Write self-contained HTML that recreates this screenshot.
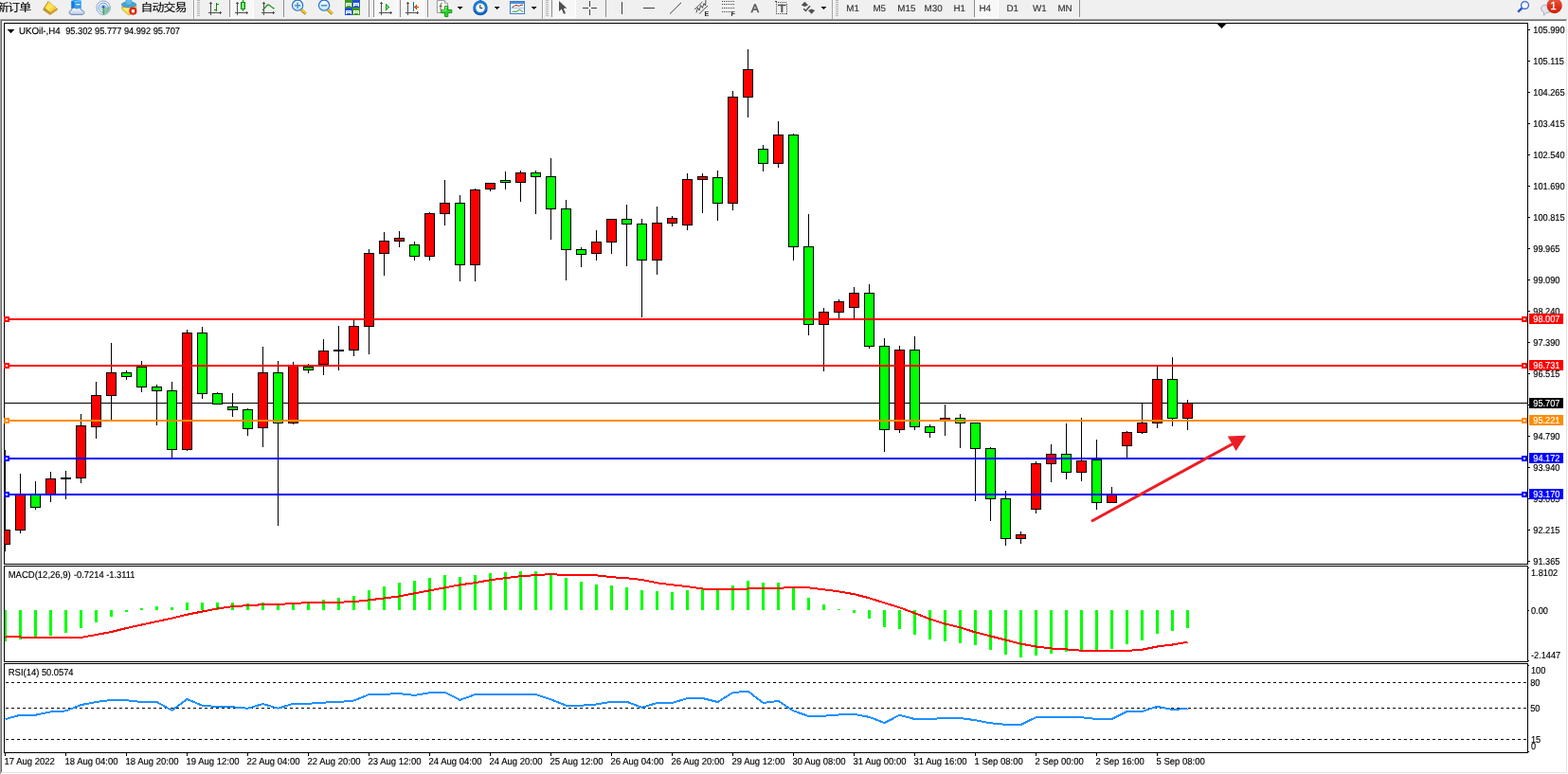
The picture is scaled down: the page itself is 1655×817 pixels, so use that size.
<!DOCTYPE html>
<html><head><meta charset="utf-8"><title>UKOil H4</title>
<style>
html,body{margin:0;padding:0;background:#fff}
body{width:1655px;height:817px;overflow:hidden;position:relative;font-family:"Liberation Sans","Noto Sans CJK SC",sans-serif}
#chart{position:absolute;left:0;top:0}
#chart text{font-family:"Liberation Sans",sans-serif;white-space:pre}
</style></head><body>

<svg id="chart" width="1655" height="817" viewBox="0 0 1655 817" shape-rendering="crispEdges">
<g id="toolbar">
<rect x="0" y="0" width="1655" height="20" fill="#f0f0f0" shape-rendering="crispEdges"/>
<defs><linearGradient id="gold" x1="0" y1="0" x2="1" y2="1"><stop offset="0" stop-color="#f4cf3a"/><stop offset="0.45" stop-color="#ffe85a"/><stop offset="1" stop-color="#e2aa1e"/></linearGradient><linearGradient id="cand" x1="0" y1="0" x2="1" y2="0"><stop offset="0" stop-color="#30d030"/><stop offset="0.5" stop-color="#a0ffa0"/><stop offset="1" stop-color="#30d030"/></linearGradient><linearGradient id="lens" x1="0" y1="0" x2="0" y2="1"><stop offset="0" stop-color="#f4fbff"/><stop offset="1" stop-color="#bfe6fb"/></linearGradient><linearGradient id="cloud" x1="0" y1="0" x2="0" y2="1"><stop offset="0" stop-color="#ffffff"/><stop offset="1" stop-color="#b8c8e4"/></linearGradient><linearGradient id="badge" x1="0" y1="0" x2="0" y2="1"><stop offset="0" stop-color="#ec5a40"/><stop offset="0.6" stop-color="#dc3018"/><stop offset="1" stop-color="#d41c08"/></linearGradient><pattern id="dith" width="2" height="2" patternUnits="userSpaceOnUse"><rect width="2" height="2" fill="#ffffff"/><rect width="1" height="1" fill="#f0f0f0"/><rect x="1" y="1" width="1" height="1" fill="#f0f0f0"/></pattern></defs>
<text transform="translate(-3.6,11.5) scale(1.08,0.95)" font-size="12" letter-spacing="-0.9" fill="#000" stroke="#000" stroke-width="0.12" style="font-family:'Liberation Sans','Noto Sans CJK SC',sans-serif">新订单</text>
<g shape-rendering="geometricPrecision"><polygon points="50.8,1.1 60.8,9.2 60.2,11 52.8,15.9 45.2,10.4 46,8.8" fill="#b8841e"/><polygon points="51.2,1.7 60.2,9.1 53.2,13.2 47.3,8.6" fill="url(#gold)"/><polygon points="46.3,9.9 52.9,14.6 59.9,10.2 59.9,10.9 52.9,15.3 46.3,10.6" fill="#e8c660"/></g>
<g shape-rendering="geometricPrecision"><path d="M75.4,1 L80,-1 L85.8,0.6 L85.8,9 L75.4,9 Z" fill="#2f9ff4"/><path d="M75.4,1 L78.4,2 L78.4,9 L75.4,9Z" fill="#157ad6"/><path d="M78.4,2 L85.8,0.6" stroke="#bfe2ff" stroke-width="0.7"/><rect x="80.2" y="4" width="4.2" height="1.3" fill="#e4f3ff"/><path d="M76,15.4 C72.4,15.4 72.2,11.2 75.4,10.8 C75.6,8 79.6,7.4 80.8,9.4 C82.6,7.8 86,8.8 86,11 C89.6,10.8 89.8,15.4 86.4,15.4 Z" fill="url(#cloud)" stroke="#5874b4" stroke-width="0.9"/></g>
<g shape-rendering="geometricPrecision"><circle cx="109.1" cy="8.2" r="7.3" fill="#eef3f6" stroke="#86a8d8" stroke-width="1"/><path d="M109.1,8.2 L109.1,15.6 A7.4,7.4 0 0 0 116.4,7 Z" fill="#8cc890" opacity="0.85"/><circle cx="109.1" cy="8.2" r="5" fill="none" stroke="#5f8fd6" stroke-width="0.9"/><circle cx="109.1" cy="8.2" r="2.8" fill="none" stroke="#7fa6de" stroke-width="0.8"/><circle cx="109.1" cy="7.6" r="1.5" fill="#2a58c8"/><rect x="108.6" y="8" width="1.1" height="7.6" fill="#28a828"/></g>
<g shape-rendering="geometricPrecision"><path d="M128.4,7.6 Q128.2,9.6 130.6,11.6 L135.2,15.4 Q136.4,16.2 137.6,15.2 L143.6,9.6 L144,6.4 Z" fill="#f8dc50" stroke="#c8981c" stroke-width="0.7"/><path d="M130,8.4 L135.6,13.6 L137,9" fill="#fff08a" opacity="0.7"/><ellipse cx="136" cy="4.9" rx="7.9" ry="2.9" fill="#4aa6d4" stroke="#2a86ac" stroke-width="0.6"/><path d="M132.2,4.6 Q132.4,-1.4 136,-1.4 Q139.4,-1.4 139.6,4.4 Q136,6 132.2,4.6 Z" fill="#62bcea" stroke="#2a86ac" stroke-width="0.5"/><circle cx="140.4" cy="11.7" r="4.1" fill="#dc2a12"/><rect x="138.9" y="10.2" width="3.1" height="3.1" fill="#fff"/></g>
<text transform="translate(148.5,11.5) scale(1.08,0.95)" font-size="12" letter-spacing="-0.9" fill="#000" stroke="#000" stroke-width="0.12" style="font-family:'Liberation Sans','Noto Sans CJK SC',sans-serif">自动交易</text>
<rect x="204" y="0" width="1" height="20" fill="#a0a0a0"/><rect x="205" y="0" width="1" height="20" fill="#ffffff"/>
<rect x="208" y="0" width="3" height="1" fill="#b4b4b4"/>
<rect x="208" y="2" width="3" height="1" fill="#b4b4b4"/>
<rect x="208" y="4" width="3" height="1" fill="#b4b4b4"/>
<rect x="208" y="6" width="3" height="1" fill="#b4b4b4"/>
<rect x="208" y="8" width="3" height="1" fill="#b4b4b4"/>
<rect x="208" y="10" width="3" height="1" fill="#b4b4b4"/>
<rect x="208" y="12" width="3" height="1" fill="#b4b4b4"/>
<rect x="208" y="14" width="3" height="1" fill="#b4b4b4"/>
<rect x="208" y="16" width="3" height="1" fill="#b4b4b4"/>
<g fill="#505050"><rect x="222" y="3" width="1" height="13"/><rect x="220" y="13" width="13" height="1"/><rect x="221" y="3" width="3" height="1"/><rect x="222" y="2" width="1" height="1"/><rect x="232" y="12" width="1" height="3"/><rect x="233" y="13" width="1" height="1"/></g>
<g fill="#0a8a0a"><rect x="228" y="3" width="1" height="9"/><rect x="229" y="4" width="2" height="1"/><rect x="226" y="10" width="2" height="1"/></g>
<rect x="242" y="0" width="26" height="18" fill="url(#dith)"/><rect x="242" y="0" width="1" height="18" fill="#8c8c8c"/><rect x="242" y="18" width="26" height="1" fill="#ffffff"/><rect x="267" y="0" width="1" height="19" fill="#ffffff"/>
<g fill="#505050"><rect x="250" y="3" width="1" height="13"/><rect x="248" y="13" width="13" height="1"/><rect x="249" y="3" width="3" height="1"/><rect x="250" y="2" width="1" height="1"/><rect x="260" y="12" width="1" height="3"/><rect x="261" y="13" width="1" height="1"/></g>
<rect x="256" y="0" width="1" height="12" fill="#0a8a0a"/><rect x="254" y="2" width="5" height="8" fill="#0a8a0a"/><rect x="255" y="3" width="3" height="6" fill="url(#cand)"/>
<g fill="#505050"><rect x="278" y="3" width="1" height="13"/><rect x="276" y="13" width="13" height="1"/><rect x="277" y="3" width="3" height="1"/><rect x="278" y="2" width="1" height="1"/><rect x="288" y="12" width="1" height="3"/><rect x="289" y="13" width="1" height="1"/></g>
<path shape-rendering="geometricPrecision" d="M277,10.6 C280,9 281,5 283,5 C285,5 286.5,8.4 289.6,9" fill="none" stroke="#1e8e1e" stroke-width="1.3"/>
<rect x="299" y="0" width="1" height="18" fill="#8c8c8c"/>
<g shape-rendering="geometricPrecision"><line x1="318.1" y1="10.4" x2="322.70000000000005" y2="14.6" stroke="#b8860b" stroke-width="3.2"/><line x1="318.3" y1="10.2" x2="322.70000000000005" y2="14.2" stroke="#f0d040" stroke-width="1.6"/><circle cx="314.1" cy="5.7" r="5.6" fill="url(#lens)" stroke="#2468c4" stroke-width="1.1"/><rect x="310.90000000000003" y="5" width="6.4" height="1.5" fill="#4a94c0"/><rect x="313.35" y="2.5" width="1.5" height="6.4" fill="#4a94c0"/></g>
<g shape-rendering="geometricPrecision"><line x1="346.1" y1="10.4" x2="350.70000000000005" y2="14.6" stroke="#b8860b" stroke-width="3.2"/><line x1="346.3" y1="10.2" x2="350.70000000000005" y2="14.2" stroke="#f0d040" stroke-width="1.6"/><circle cx="342.1" cy="5.7" r="5.6" fill="url(#lens)" stroke="#2468c4" stroke-width="1.1"/><rect x="338.90000000000003" y="5" width="6.4" height="1.5" fill="#4a94c0"/></g>
<rect x="364" y="0" width="8" height="8" fill="#3c9c1c"/><rect x="365" y="3" width="6" height="4" fill="#ffffff"/><rect x="366" y="4" width="4" height="1" fill="#3c9c1c" opacity="0.45"/><rect x="366" y="6" width="4" height="1" fill="#3c9c1c"/>
<rect x="372" y="0" width="8" height="8" fill="#2050d4"/><rect x="373" y="3" width="6" height="4" fill="#ffffff"/><rect x="374" y="4" width="4" height="1" fill="#2050d4" opacity="0.45"/><rect x="374" y="6" width="4" height="1" fill="#2050d4"/>
<rect x="364" y="8" width="8" height="8" fill="#2050d4"/><rect x="365" y="11" width="6" height="4" fill="#ffffff"/><rect x="366" y="12" width="4" height="1" fill="#2050d4" opacity="0.45"/><rect x="366" y="14" width="4" height="1" fill="#2050d4"/>
<rect x="372" y="8" width="8" height="8" fill="#3c9c1c"/><rect x="373" y="11" width="6" height="4" fill="#ffffff"/><rect x="374" y="12" width="4" height="1" fill="#3c9c1c" opacity="0.45"/><rect x="374" y="14" width="4" height="1" fill="#3c9c1c"/>
<rect x="389" y="0" width="1" height="18" fill="#8c8c8c"/>
<rect x="394" y="0" width="26" height="18" fill="url(#dith)"/><rect x="394" y="0" width="1" height="18" fill="#8c8c8c"/><rect x="394" y="18" width="26" height="1" fill="#ffffff"/><rect x="419" y="0" width="1" height="19" fill="#ffffff"/>
<g fill="#505050"><rect x="402" y="3" width="1" height="13"/><rect x="400" y="13" width="13" height="1"/><rect x="401" y="3" width="3" height="1"/><rect x="402" y="2" width="1" height="1"/><rect x="412" y="12" width="1" height="3"/><rect x="413" y="13" width="1" height="1"/></g>
<g fill="#0c9a0c"><rect x="407" y="4" width="1" height="7"/><rect x="408" y="5" width="1" height="5"/><rect x="409" y="6" width="1" height="3"/><rect x="410" y="7" width="1" height="1"/></g><rect x="408" y="6" width="1" height="3" fill="#7cf07c"/><rect x="409" y="7" width="1" height="1" fill="#58d858"/>
<rect x="422" y="0" width="26" height="18" fill="url(#dith)"/><rect x="422" y="0" width="1" height="18" fill="#8c8c8c"/><rect x="422" y="18" width="26" height="1" fill="#ffffff"/><rect x="447" y="0" width="1" height="19" fill="#ffffff"/>
<g fill="#505050"><rect x="430" y="3" width="1" height="13"/><rect x="428" y="13" width="13" height="1"/><rect x="429" y="3" width="3" height="1"/><rect x="430" y="2" width="1" height="1"/><rect x="440" y="12" width="1" height="3"/><rect x="441" y="13" width="1" height="1"/></g>
<rect x="436" y="2" width="1" height="10" fill="#1070a0"/>
<g fill="#c84000"><rect x="437" y="7" width="5" height="1"/><rect x="438" y="6" width="2" height="3"/><rect x="439" y="5" width="1" height="5"/></g><rect x="438" y="7" width="2" height="1" fill="#f07010"/>
<rect x="451" y="0" width="1" height="18" fill="#8c8c8c"/>
<g shape-rendering="geometricPrecision"><path d="M461.4,0.6 L469.4,0.6 L472.4,3.6 L472.4,13.4 L461.4,13.4 Z" fill="#ffffff" stroke="#8a8a8a" stroke-width="0.9"/><path d="M469.4,0.6 L469.4,3.6 L472.4,3.6" fill="#e8e8e8" stroke="#8a8a8a" stroke-width="0.7"/><path d="M466.6,3.2 C464.6,3.2 465.2,5.4 465,10.6 M463.6,6.6 L466.6,6.6" fill="none" stroke="#504020" stroke-width="0.9"/><path d="M469.6,6.4 L472.8,6.4 L472.8,10.4 L476.8,10.4 L476.8,13.6 L472.8,13.6 L472.8,17.6 L469.6,17.6 L469.6,13.6 L465.6,13.6 L465.6,10.4 L469.6,10.4 Z" fill="#2ad42a" stroke="#0c8c0c" stroke-width="0.9"/><path d="M470.4,7.2 L472,7.2 M466.4,11.2 L470.4,11.2 L470.4,7.2" fill="none" stroke="#b0ffb0" stroke-width="0.7"/></g>
<polygon points="482.6,7 488.6,7 485.6,10" fill="#000" shape-rendering="geometricPrecision"/>
<g shape-rendering="geometricPrecision"><rect x="505.6" y="-1" width="2.8" height="2" fill="#2a7cc8"/><circle cx="507" cy="8.3" r="6.3" fill="#fcfcfc" stroke="#1b78d2" stroke-width="3"/><path d="M500.2,10.6 A7.2,7.2 0 0 0 513.8,10.6" fill="none" stroke="#0f5cb0" stroke-width="1.6"/><circle cx="507" cy="8.3" r="3.9" fill="none" stroke="#c8c8c8" stroke-width="0.7" stroke-dasharray="0.5,1.54"/><path d="M506.8,5.2 L506.8,8.6 L509.4,8.6" fill="none" stroke="#202020" stroke-width="1"/></g>
<polygon points="521.6,7 527.6,7 524.6,10" fill="#000" shape-rendering="geometricPrecision"/>
<g><rect x="538.5" y="1.5" width="15" height="13" fill="#ffffff" stroke="#3a7ac8" stroke-width="1"/><rect x="539" y="2" width="14" height="2" fill="#4a90dc"/><rect x="539" y="8" width="14" height="1" fill="#9cc0ec"/><path shape-rendering="geometricPrecision" d="M540.4,7.2 L542,7.2 L543.4,6 L545,5.2 L546.6,6.2 L548.4,6.2 L550,5.2 L552,5.2" fill="none" stroke="#a02010" stroke-width="1"/><path shape-rendering="geometricPrecision" d="M541,12.6 L542.6,12 L544.4,12.6 L546.4,11.4 L548.6,10.2 L550.6,11.6 L552,12.6" fill="none" stroke="#109010" stroke-width="1"/></g>
<polygon points="560.6,7 566.6,7 563.6,10" fill="#000" shape-rendering="geometricPrecision"/>
<rect x="572" y="0" width="1" height="20" fill="#a0a0a0"/><rect x="573" y="0" width="1" height="20" fill="#ffffff"/>
<rect x="576" y="0" width="3" height="1" fill="#b4b4b4"/>
<rect x="576" y="2" width="3" height="1" fill="#b4b4b4"/>
<rect x="576" y="4" width="3" height="1" fill="#b4b4b4"/>
<rect x="576" y="6" width="3" height="1" fill="#b4b4b4"/>
<rect x="576" y="8" width="3" height="1" fill="#b4b4b4"/>
<rect x="576" y="10" width="3" height="1" fill="#b4b4b4"/>
<rect x="576" y="12" width="3" height="1" fill="#b4b4b4"/>
<rect x="576" y="14" width="3" height="1" fill="#b4b4b4"/>
<rect x="576" y="16" width="3" height="1" fill="#b4b4b4"/>
<rect x="582" y="0" width="26" height="18" fill="url(#dith)"/><rect x="582" y="0" width="1" height="18" fill="#8c8c8c"/><rect x="582" y="18" width="26" height="1" fill="#ffffff"/><rect x="607" y="0" width="1" height="19" fill="#ffffff"/>
<path shape-rendering="geometricPrecision" d="M590,1 L590,12 L592.8,9.6 L595,14.8 L597,14 L594.8,8.9 L598.2,8.6 Z" fill="#505050"/>
<g fill="#404040"><rect x="622" y="1" width="1" height="6"/><rect x="622" y="10" width="1" height="6"/><rect x="615" y="8" width="6" height="1"/><rect x="624" y="8" width="6" height="1"/></g>
<rect x="639" y="0" width="1" height="18" fill="#8c8c8c"/>
<rect x="656" y="2" width="1" height="13" fill="#404040"/>
<rect x="679" y="8" width="12" height="1" fill="#404040"/>
<line shape-rendering="geometricPrecision" x1="707" y1="14.6" x2="719" y2="2.8" stroke="#404040" stroke-width="1"/>
<g shape-rendering="geometricPrecision" stroke="#404040" stroke-width="0.9" fill="none"><line x1="733" y1="10" x2="741.4" y2="2"/><line x1="738" y1="14.6" x2="747" y2="6"/><path d="M735,13.4 L736.4,8 L738,11 L739.6,5.6 L741.4,8.4 L743,3.6 L744.6,6 L745,0"/></g>
<text x="743.6" y="16.8" font-size="7" font-weight="bold" fill="#303030">E</text>
<rect x="762" y="1" width="1" height="1" fill="#404040"/>
<rect x="764" y="1" width="1" height="1" fill="#404040"/>
<rect x="766" y="1" width="1" height="1" fill="#404040"/>
<rect x="768" y="1" width="1" height="1" fill="#404040"/>
<rect x="770" y="1" width="1" height="1" fill="#404040"/>
<rect x="772" y="1" width="1" height="1" fill="#404040"/>
<rect x="774" y="1" width="1" height="1" fill="#404040"/>
<rect x="762" y="4" width="1" height="1" fill="#404040"/>
<rect x="764" y="4" width="1" height="1" fill="#404040"/>
<rect x="766" y="4" width="1" height="1" fill="#404040"/>
<rect x="768" y="4" width="1" height="1" fill="#404040"/>
<rect x="770" y="4" width="1" height="1" fill="#404040"/>
<rect x="772" y="4" width="1" height="1" fill="#404040"/>
<rect x="774" y="4" width="1" height="1" fill="#404040"/>
<rect x="762" y="8" width="1" height="1" fill="#404040"/>
<rect x="764" y="8" width="1" height="1" fill="#404040"/>
<rect x="766" y="8" width="1" height="1" fill="#404040"/>
<rect x="768" y="8" width="1" height="1" fill="#404040"/>
<rect x="770" y="8" width="1" height="1" fill="#404040"/>
<rect x="772" y="8" width="1" height="1" fill="#404040"/>
<rect x="774" y="8" width="1" height="1" fill="#404040"/>
<rect x="762" y="12" width="1" height="1" fill="#404040"/>
<rect x="764" y="12" width="1" height="1" fill="#404040"/>
<rect x="766" y="12" width="1" height="1" fill="#404040"/>
<rect x="768" y="12" width="1" height="1" fill="#404040"/>
<rect x="770" y="12" width="1" height="1" fill="#404040"/>
<text x="771.6" y="16.8" font-size="7" font-weight="bold" fill="#303030">F</text>
<text x="792.7" y="13" font-size="12.4" fill="#505050" stroke="#505050" stroke-width="0.5" text-rendering="geometricPrecision">A</text>
<rect x="819" y="2" width="1" height="1" fill="#404040"/><rect x="819" y="14" width="1" height="1" fill="#404040"/>
<rect x="821" y="2" width="1" height="1" fill="#404040"/><rect x="821" y="14" width="1" height="1" fill="#404040"/>
<rect x="823" y="2" width="1" height="1" fill="#404040"/><rect x="823" y="14" width="1" height="1" fill="#404040"/>
<rect x="825" y="2" width="1" height="1" fill="#404040"/><rect x="825" y="14" width="1" height="1" fill="#404040"/>
<rect x="827" y="2" width="1" height="1" fill="#404040"/><rect x="827" y="14" width="1" height="1" fill="#404040"/>
<rect x="829" y="2" width="1" height="1" fill="#404040"/><rect x="829" y="14" width="1" height="1" fill="#404040"/>
<rect x="819" y="4" width="1" height="1" fill="#404040"/><rect x="830" y="4" width="1" height="1" fill="#404040"/>
<rect x="819" y="6" width="1" height="1" fill="#404040"/><rect x="830" y="6" width="1" height="1" fill="#404040"/>
<rect x="819" y="8" width="1" height="1" fill="#404040"/><rect x="830" y="8" width="1" height="1" fill="#404040"/>
<rect x="819" y="10" width="1" height="1" fill="#404040"/><rect x="830" y="10" width="1" height="1" fill="#404040"/>
<rect x="819" y="12" width="1" height="1" fill="#404040"/><rect x="830" y="12" width="1" height="1" fill="#404040"/>
<rect x="830" y="14" width="1" height="1" fill="#404040"/><rect x="818" y="1" width="2" height="1" fill="#404040"/>
<rect shape-rendering="geometricPrecision" x="821" y="4.7" width="8.6" height="1.5" fill="#505050"/><rect shape-rendering="geometricPrecision" x="824.4" y="4.7" width="1.9" height="8.4" fill="#505050"/>
<g shape-rendering="geometricPrecision" fill="#505050"><polygon points="845.8,5.6 849.4,1.8 853,5.6 849.4,7"/><polygon points="853,11 856.6,9.6 860.2,11 856.6,14.8"/><path d="M848.2,9.2 L850.4,11.4 L855,6.2" fill="none" stroke="#505050" stroke-width="1.5"/></g>
<polygon points="866.4,7 872.4,7 869.4,10" fill="#000" shape-rendering="geometricPrecision"/>
<rect x="878" y="0" width="1" height="20" fill="#a0a0a0"/><rect x="879" y="0" width="1" height="20" fill="#ffffff"/>
<rect x="882" y="0" width="3" height="1" fill="#b4b4b4"/>
<rect x="882" y="2" width="3" height="1" fill="#b4b4b4"/>
<rect x="882" y="4" width="3" height="1" fill="#b4b4b4"/>
<rect x="882" y="6" width="3" height="1" fill="#b4b4b4"/>
<rect x="882" y="8" width="3" height="1" fill="#b4b4b4"/>
<rect x="882" y="10" width="3" height="1" fill="#b4b4b4"/>
<rect x="882" y="12" width="3" height="1" fill="#b4b4b4"/>
<rect x="882" y="14" width="3" height="1" fill="#b4b4b4"/>
<rect x="882" y="16" width="3" height="1" fill="#b4b4b4"/>
<rect x="1028" y="0" width="26" height="18" fill="url(#dith)"/><rect x="1028" y="0" width="1" height="18" fill="#8c8c8c"/><rect x="1028" y="18" width="26" height="1" fill="#ffffff"/><rect x="1053" y="0" width="1" height="19" fill="#ffffff"/>
<text x="893.3" y="12.4" font-size="9.8" fill="#333" stroke="#333" stroke-width="0.15" text-rendering="geometricPrecision">M1</text>
<text x="921.4" y="12.4" font-size="9.8" fill="#333" stroke="#333" stroke-width="0.15" text-rendering="geometricPrecision">M5</text>
<text x="947.3" y="12.4" font-size="9.8" fill="#333" stroke="#333" stroke-width="0.15" text-rendering="geometricPrecision">M15</text>
<text x="975.6" y="12.4" font-size="9.8" fill="#333" stroke="#333" stroke-width="0.15" text-rendering="geometricPrecision">M30</text>
<text x="1006.4" y="12.4" font-size="9.8" fill="#333" stroke="#333" stroke-width="0.15" text-rendering="geometricPrecision">H1</text>
<text x="1033.4" y="12.4" font-size="9.8" fill="#333" stroke="#333" stroke-width="0.15" text-rendering="geometricPrecision">H4</text>
<text x="1062.4" y="12.4" font-size="9.8" fill="#333" stroke="#333" stroke-width="0.15" text-rendering="geometricPrecision">D1</text>
<text x="1090" y="12.4" font-size="9.8" fill="#333" stroke="#333" stroke-width="0.15" text-rendering="geometricPrecision">W1</text>
<text x="1116.4" y="12.4" font-size="9.8" fill="#333" stroke="#333" stroke-width="0.15" text-rendering="geometricPrecision">MN</text>
<rect x="1139" y="0" width="1" height="18" fill="#8c8c8c"/>
<g shape-rendering="geometricPrecision"><line x1="1602.2" y1="12.6" x2="1606.6" y2="8.4" stroke="#2a56c4" stroke-width="2.4"/><circle cx="1609.5" cy="5.5" r="3.9" fill="#f6f9ff" stroke="#3464d0" stroke-width="1.3"/></g>
<g shape-rendering="geometricPrecision"><path d="M1626.6,9 Q1626.6,5.2 1632,5.2 Q1638,5.2 1638,9.4 Q1638,13.4 1632.4,13.4 L1629.4,16.2 L1629.8,13 Q1626.6,12.2 1626.6,9 Z" fill="#e2e4ee" stroke="#a8aab0" stroke-width="0.9"/><circle cx="1640.7" cy="6.1" r="8.1" fill="url(#badge)"/></g>
<text x="1639.6" y="9.9" font-size="11.6" fill="#fff" stroke="#fff" stroke-width="0.3" text-anchor="middle">1</text>
</g>
<rect x="0" y="20" width="1654" height="1" fill="#a0a0a0"/>
<rect x="1654" y="20" width="1" height="797" fill="#ffffff"/>
<rect x="0" y="21" width="1653" height="1" fill="#696969"/>
<rect x="0" y="20" width="1" height="797" fill="#a0a0a0"/>
<rect x="1" y="21" width="1" height="795" fill="#696969"/>
<rect x="1653" y="21" width="1" height="795" fill="#e3e3e3"/>
<rect x="1" y="815" width="1653" height="1" fill="#e3e3e3"/>
<rect x="4" y="24" width="1609" height="1" fill="#000"/>
<rect x="4" y="595" width="1609" height="1" fill="#000"/>
<rect x="4" y="24" width="1" height="572" fill="#000"/>
<rect x="1612" y="24" width="1" height="572" fill="#000"/>
<rect x="4" y="597" width="1609" height="1" fill="#000"/>
<rect x="4" y="698" width="1609" height="1" fill="#000"/>
<rect x="4" y="597" width="1" height="102" fill="#000"/>
<rect x="1612" y="597" width="1" height="102" fill="#000"/>
<rect x="4" y="700" width="1609" height="1" fill="#000"/>
<rect x="4" y="794" width="1609" height="1" fill="#000"/>
<rect x="4" y="700" width="1" height="95" fill="#000"/>
<rect x="1612" y="700" width="1" height="95" fill="#000"/>
<rect x="5" y="425" width="1607" height="1" fill="#000"/>
<g>
<rect x="5" y="475" width="1" height="107" fill="#000"/>
<rect x="5" y="559" width="6" height="16" fill="#000"/>
<rect x="5" y="560" width="5" height="14" fill="#ff0000"/>
</g>
<g>
<rect x="21" y="500" width="1" height="63" fill="#000"/>
<rect x="16" y="521" width="11" height="39" fill="#000"/>
<rect x="17" y="522" width="9" height="37" fill="#ff0000"/>
</g>
<g>
<rect x="37" y="508" width="1" height="30" fill="#000"/>
<rect x="32" y="521" width="11" height="15" fill="#000"/>
<rect x="33" y="522" width="9" height="13" fill="#00ff00"/>
</g>
<g>
<rect x="53" y="498" width="1" height="32" fill="#000"/>
<rect x="48" y="505" width="11" height="17" fill="#000"/>
<rect x="49" y="506" width="9" height="15" fill="#ff0000"/>
</g>
<g>
<rect x="69" y="497" width="1" height="30" fill="#000"/>
<rect x="64" y="504" width="11" height="2" fill="#000"/>
</g>
<g>
<rect x="85" y="437" width="1" height="73" fill="#000"/>
<rect x="80" y="449" width="11" height="56" fill="#000"/>
<rect x="81" y="450" width="9" height="54" fill="#ff0000"/>
</g>
<g>
<rect x="101" y="403" width="1" height="60" fill="#000"/>
<rect x="96" y="417" width="11" height="34" fill="#000"/>
<rect x="97" y="418" width="9" height="32" fill="#ff0000"/>
</g>
<g>
<rect x="117" y="362" width="1" height="81" fill="#000"/>
<rect x="112" y="393" width="11" height="25" fill="#000"/>
<rect x="113" y="394" width="9" height="23" fill="#ff0000"/>
</g>
<g>
<rect x="133" y="391" width="1" height="10" fill="#000"/>
<rect x="128" y="393" width="11" height="5" fill="#000"/>
<rect x="129" y="394" width="9" height="3" fill="#00ff00"/>
</g>
<g>
<rect x="149" y="381" width="1" height="33" fill="#000"/>
<rect x="144" y="387" width="11" height="22" fill="#000"/>
<rect x="145" y="388" width="9" height="20" fill="#00ff00"/>
</g>
<g>
<rect x="165" y="406" width="1" height="43" fill="#000"/>
<rect x="160" y="408" width="11" height="5" fill="#000"/>
<rect x="161" y="409" width="9" height="3" fill="#00ff00"/>
</g>
<g>
<rect x="181" y="403" width="1" height="80" fill="#000"/>
<rect x="176" y="412" width="11" height="63" fill="#000"/>
<rect x="177" y="413" width="9" height="61" fill="#00ff00"/>
</g>
<g>
<rect x="197" y="348" width="1" height="128" fill="#000"/>
<rect x="192" y="351" width="11" height="124" fill="#000"/>
<rect x="193" y="352" width="9" height="122" fill="#ff0000"/>
</g>
<g>
<rect x="213" y="345" width="1" height="76" fill="#000"/>
<rect x="208" y="351" width="11" height="65" fill="#000"/>
<rect x="209" y="352" width="9" height="63" fill="#00ff00"/>
</g>
<g>
<rect x="229" y="414" width="1" height="13" fill="#000"/>
<rect x="224" y="415" width="11" height="12" fill="#000"/>
<rect x="225" y="416" width="9" height="10" fill="#00ff00"/>
</g>
<g>
<rect x="245" y="415" width="1" height="25" fill="#000"/>
<rect x="240" y="429" width="11" height="4" fill="#000"/>
<rect x="241" y="430" width="9" height="2" fill="#00ff00"/>
</g>
<g>
<rect x="261" y="431" width="1" height="29" fill="#000"/>
<rect x="256" y="432" width="11" height="21" fill="#000"/>
<rect x="257" y="433" width="9" height="19" fill="#00ff00"/>
</g>
<g>
<rect x="277" y="366" width="1" height="106" fill="#000"/>
<rect x="272" y="393" width="11" height="59" fill="#000"/>
<rect x="273" y="394" width="9" height="57" fill="#ff0000"/>
</g>
<g>
<rect x="293" y="381" width="1" height="174" fill="#000"/>
<rect x="288" y="393" width="11" height="54" fill="#000"/>
<rect x="289" y="394" width="9" height="52" fill="#00ff00"/>
</g>
<g>
<rect x="309" y="382" width="1" height="66" fill="#000"/>
<rect x="304" y="386" width="11" height="61" fill="#000"/>
<rect x="305" y="387" width="9" height="59" fill="#ff0000"/>
</g>
<g>
<rect x="325" y="384" width="1" height="10" fill="#000"/>
<rect x="320" y="387" width="11" height="4" fill="#000"/>
<rect x="321" y="388" width="9" height="2" fill="#00ff00"/>
</g>
<g>
<rect x="341" y="358" width="1" height="38" fill="#000"/>
<rect x="336" y="370" width="11" height="15" fill="#000"/>
<rect x="337" y="371" width="9" height="13" fill="#ff0000"/>
</g>
<g>
<rect x="357" y="344" width="1" height="47" fill="#000"/>
<rect x="352" y="369" width="11" height="2" fill="#000"/>
</g>
<g>
<rect x="373" y="338" width="1" height="38" fill="#000"/>
<rect x="368" y="344" width="11" height="26" fill="#000"/>
<rect x="369" y="345" width="9" height="24" fill="#ff0000"/>
</g>
<g>
<rect x="389" y="263" width="1" height="111" fill="#000"/>
<rect x="384" y="267" width="11" height="78" fill="#000"/>
<rect x="385" y="268" width="9" height="76" fill="#ff0000"/>
</g>
<g>
<rect x="405" y="245" width="1" height="46" fill="#000"/>
<rect x="400" y="254" width="11" height="14" fill="#000"/>
<rect x="401" y="255" width="9" height="12" fill="#ff0000"/>
</g>
<g>
<rect x="421" y="244" width="1" height="17" fill="#000"/>
<rect x="416" y="251" width="11" height="4" fill="#000"/>
<rect x="417" y="252" width="9" height="2" fill="#ff0000"/>
</g>
<g>
<rect x="437" y="255" width="1" height="20" fill="#000"/>
<rect x="432" y="258" width="11" height="13" fill="#000"/>
<rect x="433" y="259" width="9" height="11" fill="#00ff00"/>
</g>
<g>
<rect x="453" y="224" width="1" height="51" fill="#000"/>
<rect x="448" y="225" width="11" height="46" fill="#000"/>
<rect x="449" y="226" width="9" height="44" fill="#ff0000"/>
</g>
<g>
<rect x="469" y="190" width="1" height="48" fill="#000"/>
<rect x="464" y="214" width="11" height="12" fill="#000"/>
<rect x="465" y="215" width="9" height="10" fill="#ff0000"/>
</g>
<g>
<rect x="485" y="206" width="1" height="91" fill="#000"/>
<rect x="480" y="214" width="11" height="66" fill="#000"/>
<rect x="481" y="215" width="9" height="64" fill="#00ff00"/>
</g>
<g>
<rect x="501" y="199" width="1" height="98" fill="#000"/>
<rect x="496" y="200" width="11" height="80" fill="#000"/>
<rect x="497" y="201" width="9" height="78" fill="#ff0000"/>
</g>
<g>
<rect x="517" y="193" width="1" height="9" fill="#000"/>
<rect x="512" y="193" width="11" height="7" fill="#000"/>
<rect x="513" y="194" width="9" height="5" fill="#ff0000"/>
</g>
<g>
<rect x="533" y="181" width="1" height="19" fill="#000"/>
<rect x="528" y="190" width="11" height="3" fill="#000"/>
<rect x="529" y="191" width="9" height="1" fill="#00ff00"/>
</g>
<g>
<rect x="549" y="180" width="1" height="33" fill="#000"/>
<rect x="544" y="182" width="11" height="11" fill="#000"/>
<rect x="545" y="183" width="9" height="9" fill="#ff0000"/>
</g>
<g>
<rect x="565" y="180" width="1" height="46" fill="#000"/>
<rect x="560" y="182" width="11" height="5" fill="#000"/>
<rect x="561" y="183" width="9" height="3" fill="#00ff00"/>
</g>
<g>
<rect x="581" y="167" width="1" height="86" fill="#000"/>
<rect x="576" y="186" width="11" height="35" fill="#000"/>
<rect x="577" y="187" width="9" height="33" fill="#00ff00"/>
</g>
<g>
<rect x="597" y="211" width="1" height="85" fill="#000"/>
<rect x="592" y="220" width="11" height="44" fill="#000"/>
<rect x="593" y="221" width="9" height="42" fill="#00ff00"/>
</g>
<g>
<rect x="613" y="261" width="1" height="21" fill="#000"/>
<rect x="608" y="263" width="11" height="6" fill="#000"/>
<rect x="609" y="264" width="9" height="4" fill="#00ff00"/>
</g>
<g>
<rect x="629" y="243" width="1" height="32" fill="#000"/>
<rect x="624" y="255" width="11" height="13" fill="#000"/>
<rect x="625" y="256" width="9" height="11" fill="#ff0000"/>
</g>
<g>
<rect x="645" y="231" width="1" height="37" fill="#000"/>
<rect x="640" y="231" width="11" height="25" fill="#000"/>
<rect x="641" y="232" width="9" height="23" fill="#ff0000"/>
</g>
<g>
<rect x="661" y="216" width="1" height="65" fill="#000"/>
<rect x="656" y="231" width="11" height="6" fill="#000"/>
<rect x="657" y="232" width="9" height="4" fill="#00ff00"/>
</g>
<g>
<rect x="677" y="231" width="1" height="104" fill="#000"/>
<rect x="672" y="236" width="11" height="39" fill="#000"/>
<rect x="673" y="237" width="9" height="37" fill="#00ff00"/>
</g>
<g>
<rect x="693" y="218" width="1" height="72" fill="#000"/>
<rect x="688" y="235" width="11" height="40" fill="#000"/>
<rect x="689" y="236" width="9" height="38" fill="#ff0000"/>
</g>
<g>
<rect x="709" y="228" width="1" height="11" fill="#000"/>
<rect x="704" y="230" width="11" height="6" fill="#000"/>
<rect x="705" y="231" width="9" height="4" fill="#ff0000"/>
</g>
<g>
<rect x="725" y="183" width="1" height="60" fill="#000"/>
<rect x="720" y="189" width="11" height="49" fill="#000"/>
<rect x="721" y="190" width="9" height="47" fill="#ff0000"/>
</g>
<g>
<rect x="741" y="183" width="1" height="42" fill="#000"/>
<rect x="736" y="186" width="11" height="4" fill="#000"/>
<rect x="737" y="187" width="9" height="2" fill="#ff0000"/>
</g>
<g>
<rect x="757" y="180" width="1" height="53" fill="#000"/>
<rect x="752" y="187" width="11" height="28" fill="#000"/>
<rect x="753" y="188" width="9" height="26" fill="#00ff00"/>
</g>
<g>
<rect x="773" y="96" width="1" height="126" fill="#000"/>
<rect x="768" y="102" width="11" height="113" fill="#000"/>
<rect x="769" y="103" width="9" height="111" fill="#ff0000"/>
</g>
<g>
<rect x="789" y="52" width="1" height="72" fill="#000"/>
<rect x="784" y="73" width="11" height="30" fill="#000"/>
<rect x="785" y="74" width="9" height="28" fill="#ff0000"/>
</g>
<g>
<rect x="805" y="153" width="1" height="28" fill="#000"/>
<rect x="800" y="157" width="11" height="16" fill="#000"/>
<rect x="801" y="158" width="9" height="14" fill="#00ff00"/>
</g>
<g>
<rect x="821" y="128" width="1" height="49" fill="#000"/>
<rect x="816" y="142" width="11" height="31" fill="#000"/>
<rect x="817" y="143" width="9" height="29" fill="#ff0000"/>
</g>
<g>
<rect x="837" y="141" width="1" height="134" fill="#000"/>
<rect x="832" y="142" width="11" height="119" fill="#000"/>
<rect x="833" y="143" width="9" height="117" fill="#00ff00"/>
</g>
<g>
<rect x="853" y="226" width="1" height="128" fill="#000"/>
<rect x="848" y="260" width="11" height="83" fill="#000"/>
<rect x="849" y="261" width="9" height="81" fill="#00ff00"/>
</g>
<g>
<rect x="869" y="325" width="1" height="67" fill="#000"/>
<rect x="864" y="329" width="11" height="14" fill="#000"/>
<rect x="865" y="330" width="9" height="12" fill="#ff0000"/>
</g>
<g>
<rect x="885" y="316" width="1" height="20" fill="#000"/>
<rect x="880" y="318" width="11" height="12" fill="#000"/>
<rect x="881" y="319" width="9" height="10" fill="#ff0000"/>
</g>
<g>
<rect x="901" y="303" width="1" height="33" fill="#000"/>
<rect x="896" y="309" width="11" height="16" fill="#000"/>
<rect x="897" y="310" width="9" height="14" fill="#ff0000"/>
</g>
<g>
<rect x="917" y="300" width="1" height="68" fill="#000"/>
<rect x="912" y="309" width="11" height="57" fill="#000"/>
<rect x="913" y="310" width="9" height="55" fill="#00ff00"/>
</g>
<g>
<rect x="933" y="357" width="1" height="120" fill="#000"/>
<rect x="928" y="365" width="11" height="89" fill="#000"/>
<rect x="929" y="366" width="9" height="87" fill="#00ff00"/>
</g>
<g>
<rect x="949" y="365" width="1" height="92" fill="#000"/>
<rect x="944" y="369" width="11" height="85" fill="#000"/>
<rect x="945" y="370" width="9" height="83" fill="#ff0000"/>
</g>
<g>
<rect x="965" y="355" width="1" height="99" fill="#000"/>
<rect x="960" y="369" width="11" height="82" fill="#000"/>
<rect x="961" y="370" width="9" height="80" fill="#00ff00"/>
</g>
<g>
<rect x="981" y="448" width="1" height="14" fill="#000"/>
<rect x="976" y="450" width="11" height="7" fill="#000"/>
<rect x="977" y="451" width="9" height="5" fill="#00ff00"/>
</g>
<g>
<rect x="997" y="427" width="1" height="33" fill="#000"/>
<rect x="992" y="441" width="11" height="3" fill="#000"/>
<rect x="993" y="442" width="9" height="1" fill="#ff0000"/>
</g>
<g>
<rect x="1013" y="437" width="1" height="36" fill="#000"/>
<rect x="1008" y="441" width="11" height="6" fill="#000"/>
<rect x="1009" y="442" width="9" height="4" fill="#00ff00"/>
</g>
<g>
<rect x="1029" y="446" width="1" height="83" fill="#000"/>
<rect x="1024" y="446" width="11" height="28" fill="#000"/>
<rect x="1025" y="447" width="9" height="26" fill="#00ff00"/>
</g>
<g>
<rect x="1045" y="472" width="1" height="78" fill="#000"/>
<rect x="1040" y="473" width="11" height="54" fill="#000"/>
<rect x="1041" y="474" width="9" height="52" fill="#00ff00"/>
</g>
<g>
<rect x="1061" y="518" width="1" height="58" fill="#000"/>
<rect x="1056" y="526" width="11" height="43" fill="#000"/>
<rect x="1057" y="527" width="9" height="41" fill="#00ff00"/>
</g>
<g>
<rect x="1077" y="561" width="1" height="13" fill="#000"/>
<rect x="1072" y="564" width="11" height="5" fill="#000"/>
<rect x="1073" y="565" width="9" height="3" fill="#ff0000"/>
</g>
<g>
<rect x="1093" y="487" width="1" height="55" fill="#000"/>
<rect x="1088" y="489" width="11" height="49" fill="#000"/>
<rect x="1089" y="490" width="9" height="47" fill="#ff0000"/>
</g>
<g>
<rect x="1109" y="469" width="1" height="40" fill="#000"/>
<rect x="1104" y="479" width="11" height="11" fill="#000"/>
<rect x="1105" y="480" width="9" height="9" fill="#ff0000"/>
</g>
<g>
<rect x="1125" y="447" width="1" height="59" fill="#000"/>
<rect x="1120" y="479" width="11" height="20" fill="#000"/>
<rect x="1121" y="480" width="9" height="18" fill="#00ff00"/>
</g>
<g>
<rect x="1141" y="441" width="1" height="67" fill="#000"/>
<rect x="1136" y="486" width="11" height="13" fill="#000"/>
<rect x="1137" y="487" width="9" height="11" fill="#ff0000"/>
</g>
<g>
<rect x="1157" y="464" width="1" height="74" fill="#000"/>
<rect x="1152" y="485" width="11" height="46" fill="#000"/>
<rect x="1153" y="486" width="9" height="44" fill="#00ff00"/>
</g>
<g>
<rect x="1173" y="514" width="1" height="17" fill="#000"/>
<rect x="1168" y="521" width="11" height="10" fill="#000"/>
<rect x="1169" y="522" width="9" height="8" fill="#ff0000"/>
</g>
<g>
<rect x="1189" y="455" width="1" height="28" fill="#000"/>
<rect x="1184" y="456" width="11" height="15" fill="#000"/>
<rect x="1185" y="457" width="9" height="13" fill="#ff0000"/>
</g>
<g>
<rect x="1205" y="425" width="1" height="33" fill="#000"/>
<rect x="1200" y="446" width="11" height="11" fill="#000"/>
<rect x="1201" y="447" width="9" height="9" fill="#ff0000"/>
</g>
<g>
<rect x="1221" y="386" width="1" height="66" fill="#000"/>
<rect x="1216" y="400" width="11" height="47" fill="#000"/>
<rect x="1217" y="401" width="9" height="45" fill="#ff0000"/>
</g>
<g>
<rect x="1237" y="377" width="1" height="73" fill="#000"/>
<rect x="1232" y="400" width="11" height="42" fill="#000"/>
<rect x="1233" y="401" width="9" height="40" fill="#00ff00"/>
</g>
<g>
<rect x="1253" y="422" width="1" height="32" fill="#000"/>
<rect x="1248" y="425" width="11" height="17" fill="#000"/>
<rect x="1249" y="426" width="9" height="15" fill="#ff0000"/>
</g>
<rect x="5" y="336" width="1607" height="2" fill="#ff0000"/>
<rect x="4" y="334" width="6" height="6" fill="#ff0000"/>
<rect x="6" y="336" width="2" height="2" fill="#fff"/>
<rect x="1606" y="334" width="6" height="6" fill="#ff0000"/>
<rect x="1608" y="336" width="2" height="2" fill="#fff"/>
<rect x="5" y="385" width="1607" height="2" fill="#ff0000"/>
<rect x="4" y="383" width="6" height="6" fill="#ff0000"/>
<rect x="6" y="385" width="2" height="2" fill="#fff"/>
<rect x="1606" y="383" width="6" height="6" fill="#ff0000"/>
<rect x="1608" y="385" width="2" height="2" fill="#fff"/>
<rect x="5" y="443" width="1607" height="2" fill="#ff8c00"/>
<rect x="4" y="441" width="6" height="6" fill="#ff8c00"/>
<rect x="6" y="443" width="2" height="2" fill="#fff"/>
<rect x="1606" y="441" width="6" height="6" fill="#ff8c00"/>
<rect x="1608" y="443" width="2" height="2" fill="#fff"/>
<rect x="5" y="483" width="1607" height="2" fill="#0000ff"/>
<rect x="4" y="481" width="6" height="6" fill="#0000ff"/>
<rect x="6" y="483" width="2" height="2" fill="#fff"/>
<rect x="1606" y="481" width="6" height="6" fill="#0000ff"/>
<rect x="1608" y="483" width="2" height="2" fill="#fff"/>
<rect x="5" y="521" width="1607" height="2" fill="#0000ff"/>
<rect x="4" y="519" width="6" height="6" fill="#0000ff"/>
<rect x="6" y="521" width="2" height="2" fill="#fff"/>
<rect x="1606" y="519" width="6" height="6" fill="#0000ff"/>
<rect x="1608" y="521" width="2" height="2" fill="#fff"/>
<rect x="1285" y="25" width="9" height="1" fill="#000"/>
<rect x="1286" y="26" width="7" height="1" fill="#000"/>
<rect x="1287" y="27" width="5" height="1" fill="#000"/>
<rect x="1288" y="28" width="3" height="1" fill="#000"/>
<rect x="1289" y="29" width="1" height="1" fill="#000"/>
<g shape-rendering="geometricPrecision"><line x1="1152" y1="550.3" x2="1302" y2="468" stroke="#ed1c24" stroke-width="3"/><polygon points="1295.8,460.4 1315.1,459.7 1304.6,475.9" fill="#ed1c24"/></g>
<rect x="8" y="31" width="7" height="1" fill="#000"/>
<rect x="9" y="32" width="5" height="1" fill="#000"/>
<rect x="10" y="33" width="3" height="1" fill="#000"/>
<rect x="11" y="34" width="1" height="1" fill="#000"/>
<text transform="translate(20,36) scale(0.9604,1)" font-size="10.1" fill="#000" stroke="#000" stroke-width="0.15" text-rendering="geometricPrecision">UKOil-,H4</text>
<text transform="translate(69.2,36) scale(0.9158,1)" font-size="10.1" fill="#000" stroke="#000" stroke-width="0.15" text-rendering="geometricPrecision">95.302 95.777 94.992 95.707</text>
<rect x="1613" y="31" width="2" height="1" fill="#000"/>
<text transform="translate(1618.3,35) scale(0.9109,1)" font-size="10.1" fill="#000" stroke="#000" stroke-width="0.15" text-rendering="geometricPrecision">105.990</text>
<rect x="1613" y="64" width="2" height="1" fill="#000"/>
<text transform="translate(1618.3,68) scale(0.9109,1)" font-size="10.1" fill="#000" stroke="#000" stroke-width="0.15" text-rendering="geometricPrecision">105.115</text>
<rect x="1613" y="97" width="2" height="1" fill="#000"/>
<text transform="translate(1618.3,101) scale(0.9109,1)" font-size="10.1" fill="#000" stroke="#000" stroke-width="0.15" text-rendering="geometricPrecision">104.265</text>
<rect x="1613" y="130" width="2" height="1" fill="#000"/>
<text transform="translate(1618.3,134) scale(0.9109,1)" font-size="10.1" fill="#000" stroke="#000" stroke-width="0.15" text-rendering="geometricPrecision">103.415</text>
<rect x="1613" y="163" width="2" height="1" fill="#000"/>
<text transform="translate(1618.3,167) scale(0.9109,1)" font-size="10.1" fill="#000" stroke="#000" stroke-width="0.15" text-rendering="geometricPrecision">102.540</text>
<rect x="1613" y="196" width="2" height="1" fill="#000"/>
<text transform="translate(1618.3,200) scale(0.9109,1)" font-size="10.1" fill="#000" stroke="#000" stroke-width="0.15" text-rendering="geometricPrecision">101.690</text>
<rect x="1613" y="229" width="2" height="1" fill="#000"/>
<text transform="translate(1618.3,233) scale(0.9109,1)" font-size="10.1" fill="#000" stroke="#000" stroke-width="0.15" text-rendering="geometricPrecision">100.815</text>
<rect x="1613" y="262" width="2" height="1" fill="#000"/>
<text transform="translate(1618.3,266) scale(0.9109,1)" font-size="10.1" fill="#000" stroke="#000" stroke-width="0.15" text-rendering="geometricPrecision">99.965</text>
<rect x="1613" y="295" width="2" height="1" fill="#000"/>
<text transform="translate(1618.3,299) scale(0.9109,1)" font-size="10.1" fill="#000" stroke="#000" stroke-width="0.15" text-rendering="geometricPrecision">99.090</text>
<rect x="1613" y="328" width="2" height="1" fill="#000"/>
<text transform="translate(1618.3,332) scale(0.9109,1)" font-size="10.1" fill="#000" stroke="#000" stroke-width="0.15" text-rendering="geometricPrecision">98.240</text>
<rect x="1613" y="361" width="2" height="1" fill="#000"/>
<text transform="translate(1618.3,365) scale(0.9109,1)" font-size="10.1" fill="#000" stroke="#000" stroke-width="0.15" text-rendering="geometricPrecision">97.390</text>
<rect x="1613" y="394" width="2" height="1" fill="#000"/>
<text transform="translate(1618.3,398) scale(0.9109,1)" font-size="10.1" fill="#000" stroke="#000" stroke-width="0.15" text-rendering="geometricPrecision">96.515</text>
<rect x="1613" y="427" width="2" height="1" fill="#000"/>
<text transform="translate(1618.3,431) scale(0.9109,1)" font-size="10.1" fill="#000" stroke="#000" stroke-width="0.15" text-rendering="geometricPrecision">95.665</text>
<rect x="1613" y="460" width="2" height="1" fill="#000"/>
<text transform="translate(1618.3,464) scale(0.9109,1)" font-size="10.1" fill="#000" stroke="#000" stroke-width="0.15" text-rendering="geometricPrecision">94.790</text>
<rect x="1613" y="493" width="2" height="1" fill="#000"/>
<text transform="translate(1618.3,497) scale(0.9109,1)" font-size="10.1" fill="#000" stroke="#000" stroke-width="0.15" text-rendering="geometricPrecision">93.940</text>
<rect x="1613" y="526" width="2" height="1" fill="#000"/>
<text transform="translate(1618.3,530) scale(0.9109,1)" font-size="10.1" fill="#000" stroke="#000" stroke-width="0.15" text-rendering="geometricPrecision">93.065</text>
<rect x="1613" y="559" width="2" height="1" fill="#000"/>
<text transform="translate(1618.3,563) scale(0.9109,1)" font-size="10.1" fill="#000" stroke="#000" stroke-width="0.15" text-rendering="geometricPrecision">92.215</text>
<rect x="1613" y="592" width="2" height="1" fill="#000"/>
<text transform="translate(1618.3,596) scale(0.9109,1)" font-size="10.1" fill="#000" stroke="#000" stroke-width="0.15" text-rendering="geometricPrecision">91.365</text>
<rect x="1614" y="331" width="36" height="11" fill="#ff0000"/>
<text transform="translate(1618.3,340) scale(0.9109,1)" font-size="10.1" fill="#fff" stroke="#fff" stroke-width="0.15" text-rendering="geometricPrecision">98.007</text>
<rect x="1614" y="380" width="36" height="11" fill="#ff0000"/>
<text transform="translate(1618.3,389) scale(0.9109,1)" font-size="10.1" fill="#fff" stroke="#fff" stroke-width="0.15" text-rendering="geometricPrecision">96.731</text>
<rect x="1614" y="420" width="36" height="11" fill="#000"/>
<text transform="translate(1618.3,429) scale(0.9109,1)" font-size="10.1" fill="#fff" stroke="#fff" stroke-width="0.15" text-rendering="geometricPrecision">95.707</text>
<rect x="1614" y="438" width="36" height="11" fill="#ff8c00"/>
<text transform="translate(1618.3,447) scale(0.9109,1)" font-size="10.1" fill="#fff" stroke="#fff" stroke-width="0.15" text-rendering="geometricPrecision">95.221</text>
<rect x="1614" y="478" width="36" height="11" fill="#0000ff"/>
<text transform="translate(1618.3,487) scale(0.9109,1)" font-size="10.1" fill="#fff" stroke="#fff" stroke-width="0.15" text-rendering="geometricPrecision">94.172</text>
<rect x="1614" y="516" width="36" height="11" fill="#0000ff"/>
<text transform="translate(1618.3,525) scale(0.9109,1)" font-size="10.1" fill="#fff" stroke="#fff" stroke-width="0.15" text-rendering="geometricPrecision">93.170</text>
<rect x="5" y="644" width="2" height="33" fill="#00ff00"/>
<rect x="20" y="644" width="3" height="31" fill="#00ff00"/>
<rect x="36" y="644" width="3" height="28" fill="#00ff00"/>
<rect x="52" y="644" width="3" height="27" fill="#00ff00"/>
<rect x="68" y="644" width="3" height="24" fill="#00ff00"/>
<rect x="84" y="644" width="3" height="19" fill="#00ff00"/>
<rect x="100" y="644" width="3" height="13" fill="#00ff00"/>
<rect x="116" y="644" width="3" height="7" fill="#00ff00"/>
<rect x="132" y="644" width="3" height="2" fill="#00ff00"/>
<rect x="148" y="642" width="3" height="2" fill="#00ff00"/>
<rect x="164" y="640" width="3" height="4" fill="#00ff00"/>
<rect x="180" y="641" width="3" height="3" fill="#00ff00"/>
<rect x="196" y="636" width="3" height="8" fill="#00ff00"/>
<rect x="212" y="636" width="3" height="8" fill="#00ff00"/>
<rect x="228" y="636" width="3" height="8" fill="#00ff00"/>
<rect x="244" y="636" width="3" height="8" fill="#00ff00"/>
<rect x="260" y="637" width="3" height="7" fill="#00ff00"/>
<rect x="276" y="636" width="3" height="8" fill="#00ff00"/>
<rect x="292" y="637" width="3" height="7" fill="#00ff00"/>
<rect x="308" y="636" width="3" height="8" fill="#00ff00"/>
<rect x="324" y="635" width="3" height="9" fill="#00ff00"/>
<rect x="340" y="633" width="3" height="11" fill="#00ff00"/>
<rect x="356" y="631" width="3" height="13" fill="#00ff00"/>
<rect x="372" y="629" width="3" height="15" fill="#00ff00"/>
<rect x="388" y="623" width="3" height="21" fill="#00ff00"/>
<rect x="404" y="619" width="3" height="25" fill="#00ff00"/>
<rect x="420" y="615" width="3" height="29" fill="#00ff00"/>
<rect x="436" y="613" width="3" height="31" fill="#00ff00"/>
<rect x="452" y="610" width="3" height="34" fill="#00ff00"/>
<rect x="468" y="607" width="3" height="37" fill="#00ff00"/>
<rect x="484" y="609" width="3" height="35" fill="#00ff00"/>
<rect x="500" y="607" width="3" height="37" fill="#00ff00"/>
<rect x="516" y="605" width="3" height="39" fill="#00ff00"/>
<rect x="532" y="604" width="3" height="40" fill="#00ff00"/>
<rect x="548" y="603" width="3" height="41" fill="#00ff00"/>
<rect x="564" y="603" width="3" height="41" fill="#00ff00"/>
<rect x="580" y="605" width="3" height="39" fill="#00ff00"/>
<rect x="596" y="610" width="3" height="34" fill="#00ff00"/>
<rect x="612" y="614" width="3" height="30" fill="#00ff00"/>
<rect x="628" y="617" width="3" height="27" fill="#00ff00"/>
<rect x="644" y="618" width="3" height="26" fill="#00ff00"/>
<rect x="660" y="620" width="3" height="24" fill="#00ff00"/>
<rect x="676" y="623" width="3" height="21" fill="#00ff00"/>
<rect x="692" y="624" width="3" height="20" fill="#00ff00"/>
<rect x="708" y="625" width="3" height="19" fill="#00ff00"/>
<rect x="724" y="623" width="3" height="21" fill="#00ff00"/>
<rect x="740" y="621" width="3" height="23" fill="#00ff00"/>
<rect x="756" y="622" width="3" height="22" fill="#00ff00"/>
<rect x="772" y="618" width="3" height="26" fill="#00ff00"/>
<rect x="788" y="613" width="3" height="31" fill="#00ff00"/>
<rect x="804" y="615" width="3" height="29" fill="#00ff00"/>
<rect x="820" y="615" width="3" height="29" fill="#00ff00"/>
<rect x="836" y="620" width="3" height="24" fill="#00ff00"/>
<rect x="852" y="631" width="3" height="13" fill="#00ff00"/>
<rect x="868" y="638" width="3" height="6" fill="#00ff00"/>
<rect x="884" y="643" width="3" height="1" fill="#00ff00"/>
<rect x="900" y="644" width="3" height="3" fill="#00ff00"/>
<rect x="916" y="644" width="3" height="9" fill="#00ff00"/>
<rect x="932" y="644" width="3" height="18" fill="#00ff00"/>
<rect x="948" y="644" width="3" height="20" fill="#00ff00"/>
<rect x="964" y="644" width="3" height="26" fill="#00ff00"/>
<rect x="980" y="644" width="3" height="31" fill="#00ff00"/>
<rect x="996" y="644" width="3" height="33" fill="#00ff00"/>
<rect x="1012" y="644" width="3" height="35" fill="#00ff00"/>
<rect x="1028" y="644" width="3" height="37" fill="#00ff00"/>
<rect x="1044" y="644" width="3" height="42" fill="#00ff00"/>
<rect x="1060" y="644" width="3" height="47" fill="#00ff00"/>
<rect x="1076" y="644" width="3" height="50" fill="#00ff00"/>
<rect x="1092" y="644" width="3" height="48" fill="#00ff00"/>
<rect x="1108" y="644" width="3" height="46" fill="#00ff00"/>
<rect x="1124" y="644" width="3" height="44" fill="#00ff00"/>
<rect x="1140" y="644" width="3" height="43" fill="#00ff00"/>
<rect x="1156" y="644" width="3" height="42" fill="#00ff00"/>
<rect x="1172" y="644" width="3" height="41" fill="#00ff00"/>
<rect x="1188" y="644" width="3" height="36" fill="#00ff00"/>
<rect x="1204" y="644" width="3" height="32" fill="#00ff00"/>
<rect x="1220" y="644" width="3" height="25" fill="#00ff00"/>
<rect x="1236" y="644" width="3" height="22" fill="#00ff00"/>
<rect x="1252" y="644" width="3" height="19" fill="#00ff00"/>
<polyline points="5.5,672.2 21.5,672.5 37.5,672.9 53.5,672.9 69.5,672.9 85.5,672.9 101.5,670.0 117.5,667.0 133.5,663.0 149.5,659.5 165.5,656.0 181.5,652.6 197.5,648.7 213.5,645.5 229.5,642.4 245.5,640.1 261.5,639.2 277.5,638.2 293.5,637.9 309.5,637.1 325.5,636.0 341.5,636.0 357.5,635.7 373.5,635.1 389.5,633.3 405.5,631.5 421.5,629.4 437.5,626.3 453.5,623.3 469.5,620.3 485.5,617.3 501.5,615.2 517.5,612.2 533.5,610.2 549.5,608.2 565.5,607.1 581.5,606.1 597.5,607.1 613.5,607.1 629.5,607.3 645.5,609.2 661.5,610.2 677.5,612.0 693.5,615.3 709.5,617.3 725.5,619.2 741.5,621.5 757.5,622.0 773.5,622.0 789.5,621.5 805.5,621.0 821.5,620.8 837.5,620.0 853.5,620.3 869.5,622.3 885.5,624.4 901.5,627.2 917.5,631.3 933.5,636.4 949.5,641.2 965.5,647.2 981.5,653.5 997.5,658.5 1013.5,662.4 1029.5,667.4 1045.5,671.5 1061.5,675.5 1077.5,679.6 1093.5,682.5 1109.5,684.5 1125.5,685.4 1141.5,686.7 1157.5,686.9 1173.5,686.9 1189.5,686.9 1205.5,685.7 1221.5,682.5 1237.5,680.5 1253.5,677.8" fill="none" stroke="#ff0000" stroke-width="2" shape-rendering="crispEdges"/>
<text transform="translate(8.7,610) scale(0.9406,1)" font-size="10.1" fill="#000" stroke="#000" stroke-width="0.15" text-rendering="geometricPrecision">MACD(12,26,9)</text>
<text transform="translate(77.9,610) scale(0.9257,1)" font-size="10.1" fill="#000" stroke="#000" stroke-width="0.15" text-rendering="geometricPrecision">-0.7214 -1.3111</text>
<rect x="1613" y="599" width="1" height="1" fill="#000"/>
<rect x="1613" y="644" width="1" height="1" fill="#000"/>
<rect x="1613" y="697" width="1" height="1" fill="#000"/>
<text transform="translate(1616,608) scale(0.9109,1)" font-size="10.1" fill="#000" stroke="#000" stroke-width="0.15" text-rendering="geometricPrecision">1.8102</text>
<text transform="translate(1616,648) scale(0.9109,1)" font-size="10.1" fill="#000" stroke="#000" stroke-width="0.15" text-rendering="geometricPrecision">0.00</text>
<text transform="translate(1616,695) scale(0.9109,1)" font-size="10.1" fill="#000" stroke="#000" stroke-width="0.15" text-rendering="geometricPrecision">-2.1447</text>
<line x1="6" y1="720.5" x2="1612" y2="720.5" stroke="#000" stroke-width="1" stroke-dasharray="3,3"/>
<line x1="6" y1="747.5" x2="1612" y2="747.5" stroke="#000" stroke-width="1" stroke-dasharray="3,3"/>
<line x1="6" y1="780.5" x2="1612" y2="780.5" stroke="#000" stroke-width="1" stroke-dasharray="3,3"/>
<polyline points="5.5,759.1 21.5,754.7 37.5,754.7 53.5,751.4 69.5,750.4 85.5,744.1 101.5,741.0 117.5,738.9 133.5,739.2 149.5,741.0 165.5,741.0 181.5,749.9 197.5,738.0 213.5,744.7 229.5,746.0 245.5,746.3 261.5,747.7 277.5,743.1 293.5,747.7 309.5,742.8 325.5,742.8 341.5,741.6 357.5,741.0 373.5,739.5 389.5,733.0 405.5,732.8 421.5,732.1 437.5,733.9 453.5,731.2 469.5,730.6 485.5,738.9 501.5,733.0 517.5,733.0 533.5,733.0 549.5,733.0 565.5,733.0 581.5,738.3 597.5,744.7 613.5,744.7 629.5,743.5 645.5,740.8 661.5,740.8 677.5,746.8 693.5,742.0 709.5,742.0 725.5,737.0 741.5,737.0 757.5,741.0 773.5,731.1 789.5,729.7 805.5,741.9 821.5,740.0 837.5,750.4 853.5,755.9 869.5,755.7 885.5,754.5 901.5,753.9 917.5,756.9 933.5,763.0 949.5,754.8 965.5,759.0 981.5,759.0 997.5,758.0 1013.5,758.0 1029.5,760.2 1045.5,763.3 1061.5,764.9 1077.5,764.9 1093.5,757.2 1109.5,757.2 1125.5,757.2 1141.5,757.2 1157.5,759.0 1173.5,759.0 1189.5,750.9 1205.5,750.9 1221.5,745.9 1237.5,749.0 1253.5,748.0" fill="none" stroke="#1e90ff" stroke-width="2" shape-rendering="crispEdges"/>
<text transform="translate(8.7,713) scale(0.9406,1)" font-size="10.1" fill="#000" stroke="#000" stroke-width="0.15" text-rendering="geometricPrecision">RSI(14)</text>
<text transform="translate(43.9,713) scale(0.9208,1)" font-size="10.1" fill="#000" stroke="#000" stroke-width="0.15" text-rendering="geometricPrecision">50.0574</text>
<text transform="translate(1616,711) scale(0.9109,1)" font-size="10.1" fill="#000" stroke="#000" stroke-width="0.15" text-rendering="geometricPrecision">100</text>
<text transform="translate(1615.2,724) scale(0.9109,1)" font-size="10.1" fill="#000" stroke="#000" stroke-width="0.15" text-rendering="geometricPrecision">80</text>
<text transform="translate(1615.2,751) scale(0.9109,1)" font-size="10.1" fill="#000" stroke="#000" stroke-width="0.15" text-rendering="geometricPrecision">50</text>
<text transform="translate(1616,784) scale(0.9109,1)" font-size="10.1" fill="#000" stroke="#000" stroke-width="0.15" text-rendering="geometricPrecision">15</text>
<text transform="translate(1616,791) scale(0.9109,1)" font-size="10.1" fill="#000" stroke="#000" stroke-width="0.15" text-rendering="geometricPrecision">0</text>
<rect x="1613" y="702" width="1" height="1" fill="#000"/>
<rect x="1613" y="793" width="1" height="1" fill="#000"/>
<rect x="5" y="795" width="1" height="3" fill="#000"/>
<text transform="translate(4.5,807.3) scale(0.9406,1)" font-size="10.1" fill="#000" stroke="#000" stroke-width="0.15" text-rendering="geometricPrecision">17 Aug 2022</text>
<rect x="69" y="795" width="1" height="3" fill="#000"/>
<text transform="translate(68.5,807.3) scale(0.9406,1)" font-size="10.1" fill="#000" stroke="#000" stroke-width="0.15" text-rendering="geometricPrecision">18 Aug 04:00</text>
<rect x="133" y="795" width="1" height="3" fill="#000"/>
<text transform="translate(132.5,807.3) scale(0.9406,1)" font-size="10.1" fill="#000" stroke="#000" stroke-width="0.15" text-rendering="geometricPrecision">18 Aug 20:00</text>
<rect x="197" y="795" width="1" height="3" fill="#000"/>
<text transform="translate(196.5,807.3) scale(0.9406,1)" font-size="10.1" fill="#000" stroke="#000" stroke-width="0.15" text-rendering="geometricPrecision">19 Aug 12:00</text>
<rect x="261" y="795" width="1" height="3" fill="#000"/>
<text transform="translate(260.5,807.3) scale(0.9406,1)" font-size="10.1" fill="#000" stroke="#000" stroke-width="0.15" text-rendering="geometricPrecision">22 Aug 04:00</text>
<rect x="325" y="795" width="1" height="3" fill="#000"/>
<text transform="translate(324.5,807.3) scale(0.9406,1)" font-size="10.1" fill="#000" stroke="#000" stroke-width="0.15" text-rendering="geometricPrecision">22 Aug 20:00</text>
<rect x="389" y="795" width="1" height="3" fill="#000"/>
<text transform="translate(388.5,807.3) scale(0.9406,1)" font-size="10.1" fill="#000" stroke="#000" stroke-width="0.15" text-rendering="geometricPrecision">23 Aug 12:00</text>
<rect x="453" y="795" width="1" height="3" fill="#000"/>
<text transform="translate(452.5,807.3) scale(0.9406,1)" font-size="10.1" fill="#000" stroke="#000" stroke-width="0.15" text-rendering="geometricPrecision">24 Aug 04:00</text>
<rect x="517" y="795" width="1" height="3" fill="#000"/>
<text transform="translate(516.5,807.3) scale(0.9406,1)" font-size="10.1" fill="#000" stroke="#000" stroke-width="0.15" text-rendering="geometricPrecision">24 Aug 20:00</text>
<rect x="581" y="795" width="1" height="3" fill="#000"/>
<text transform="translate(580.5,807.3) scale(0.9406,1)" font-size="10.1" fill="#000" stroke="#000" stroke-width="0.15" text-rendering="geometricPrecision">25 Aug 12:00</text>
<rect x="645" y="795" width="1" height="3" fill="#000"/>
<text transform="translate(644.5,807.3) scale(0.9406,1)" font-size="10.1" fill="#000" stroke="#000" stroke-width="0.15" text-rendering="geometricPrecision">26 Aug 04:00</text>
<rect x="709" y="795" width="1" height="3" fill="#000"/>
<text transform="translate(708.5,807.3) scale(0.9406,1)" font-size="10.1" fill="#000" stroke="#000" stroke-width="0.15" text-rendering="geometricPrecision">26 Aug 20:00</text>
<rect x="773" y="795" width="1" height="3" fill="#000"/>
<text transform="translate(772.5,807.3) scale(0.9406,1)" font-size="10.1" fill="#000" stroke="#000" stroke-width="0.15" text-rendering="geometricPrecision">29 Aug 12:00</text>
<rect x="837" y="795" width="1" height="3" fill="#000"/>
<text transform="translate(836.5,807.3) scale(0.9406,1)" font-size="10.1" fill="#000" stroke="#000" stroke-width="0.15" text-rendering="geometricPrecision">30 Aug 08:00</text>
<rect x="901" y="795" width="1" height="3" fill="#000"/>
<text transform="translate(900.5,807.3) scale(0.9406,1)" font-size="10.1" fill="#000" stroke="#000" stroke-width="0.15" text-rendering="geometricPrecision">31 Aug 00:00</text>
<rect x="965" y="795" width="1" height="3" fill="#000"/>
<text transform="translate(964.5,807.3) scale(0.9406,1)" font-size="10.1" fill="#000" stroke="#000" stroke-width="0.15" text-rendering="geometricPrecision">31 Aug 16:00</text>
<rect x="1029" y="795" width="1" height="3" fill="#000"/>
<text transform="translate(1028.5,807.3) scale(0.9406,1)" font-size="10.1" fill="#000" stroke="#000" stroke-width="0.15" text-rendering="geometricPrecision">1 Sep 08:00</text>
<rect x="1093" y="795" width="1" height="3" fill="#000"/>
<text transform="translate(1092.5,807.3) scale(0.9406,1)" font-size="10.1" fill="#000" stroke="#000" stroke-width="0.15" text-rendering="geometricPrecision">2 Sep 00:00</text>
<rect x="1157" y="795" width="1" height="3" fill="#000"/>
<text transform="translate(1156.5,807.3) scale(0.9406,1)" font-size="10.1" fill="#000" stroke="#000" stroke-width="0.15" text-rendering="geometricPrecision">2 Sep 16:00</text>
<rect x="1221" y="795" width="1" height="3" fill="#000"/>
<text transform="translate(1220.5,807.3) scale(0.9406,1)" font-size="10.1" fill="#000" stroke="#000" stroke-width="0.15" text-rendering="geometricPrecision">5 Sep 08:00</text>
</svg>
</body></html>
